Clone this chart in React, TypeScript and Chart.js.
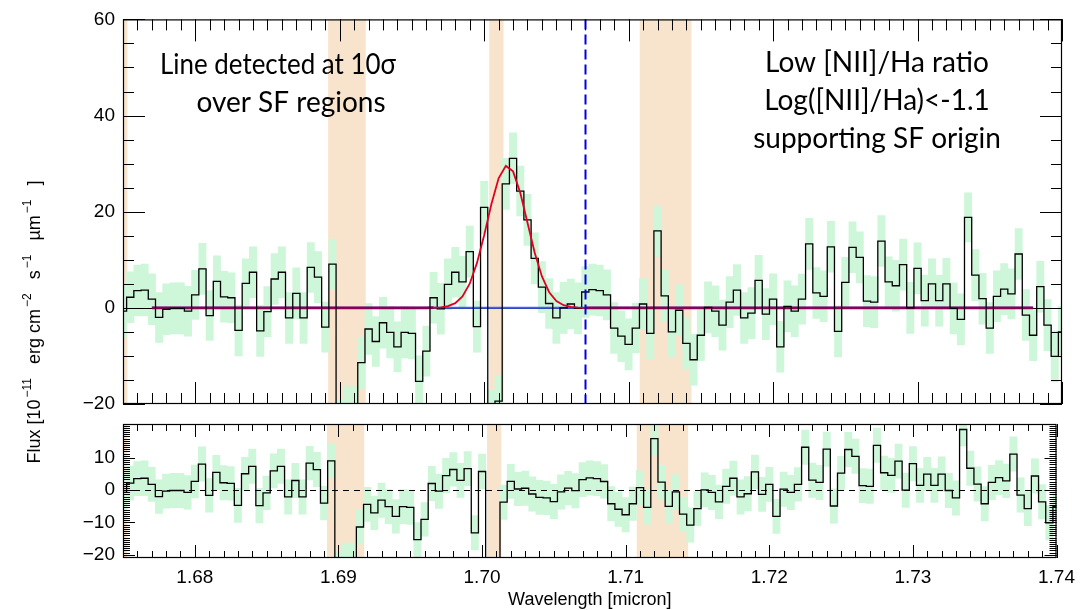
import React, { useEffect, useRef } from "react";
import { Chart, registerables } from "chart.js";

Chart.register(...registerables);

// Spectral grid: one flux sample every 0.5 nm
const WAVE_START = 1.675;
const WAVE_STEP = 0.0005;
const X_MIN = 1.675;
const X_MAX = 1.74;

// Flux density per bin [1e-11 erg cm^-2 s^-1 um^-1]
const flux = [
  -0.7, 2.2, 3.6, 3.7, 1.8, -2.0, -0.3, -0.1, -0.1, -0.7,
  2.7, 8.1, -1.6, 5.5, 2.3, 2.1, -4.7, 5.1, 7.4, -4.8,
  -0.8, 6.0, 7.4, -2.1, 3.0, -2.1, 8.4, 6.4, -4.0, 9.1,
  -24.5, -21.8, -21.8, -11.4, -4.4, -7.0, -3.1, -5.1, -8.1, -5.1,
  -5.3, -15.3, -9.0, 2.1, -0.2, 4.9, 7.4, 5.4, 11.7, -3.9,
  20.9, -22.4, -19.4, 25.8, 31.1, 24.3, 18.3, 10.3, 4.3, 0.9,
  -2.1, 0.0, 0.8, -0.1, 3.3, 3.8, 3.6, 2.7, -4.2, -5.9,
  -7.6, -4.2, 0.8, -5.3, 16.0, 2.5, -5.0, -0.5, -7.4, -10.8,
  -5.7, 0.1, -0.7, -3.6, 1.2, 3.7, -2.1, -1.1, 5.7, -1.3,
  1.8, -8.1, 0.3, -0.7, 1.8, 13.3, 3.1, 2.4, 12.7, -4.9,
  5.3, 12.6, 10.5, 1.4, 1.2, 13.9, 5.4, 4.6, 9.0, 0.0,
  8.2, 1.5, 5.0, 1.5, 5.0, -0.1, -2.4, 18.8, 6.8, 1.9,
  -4.2, 2.4, 3.9, 2.9, 11.2, -1.5, -5.7, 4.4, -3.6, -10.1,
  -5.0,
];

// 1-sigma uncertainty per bin
const fluxErr = [
  5.4, 5.3, 5.3, 5.4, 5.3, 5.2, 5.3, 5.3, 5.3, 5.2,
  5.1, 5.3, 5.2, 5.3, 5.3, 5.2, 5.3, 5.1, 5.3, 5.3,
  5.2, 5.3, 5.3, 5.3, 5.3, 5.3, 5.2, 5.3, 5.2, 5.2,
  5.3, 5.4, 5.4, 5.3, 5.3, 5.2, 5.3, 5.3, 5.2, 5.3,
  5.3, 5.3, 5.2, 5.3, 5.3, 5.3, 5.2, 5.3, 5.3, 5.3,
  5.4, 5.3, 5.3, 5.3, 5.3, 5.2, 5.3, 5.3, 5.3, 5.2,
  5.3, 5.3, 5.2, 5.3, 5.3, 5.3, 5.3, 5.2, 5.3, 5.3,
  5.3, 5.2, 5.3, 5.3, 5.3, 5.3, 5.2, 5.3, 5.3, 5.3,
  5.3, 5.3, 5.3, 5.2, 5.3, 5.3, 5.3, 5.3, 5.2, 5.3,
  5.3, 5.3, 5.3, 5.3, 5.2, 5.3, 5.3, 5.3, 5.3, 5.3,
  5.2, 5.3, 5.3, 5.3, 5.3, 5.3, 5.2, 5.3, 5.3, 5.3,
  5.3, 5.3, 5.2, 5.3, 5.3, 5.3, 5.3, 5.1, 5.3, 5.3,
  5.3, 5.3, 5.3, 5.2, 5.3, 5.3, 5.3, 5.3, 5.3, 5.3,
  5.3,
];

// Single-Gaussian emission-line fit on a flat continuum
const FIT_AMPLITUDE = 29.6;
const FIT_CENTER = 1.7016;
const FIT_SIGMA = 0.00138;
const FIT_CONTINUUM = 0;
const FIT_RANGE = [1.6767, 1.7384];

// Masked (sky-line) intervals and the expected line position
const maskedRanges = [
  [1.675, 1.6753],
  [1.6892, 1.6918],
  [1.70035, 1.70134],
  [1.71077, 1.71435],
];
const lineMarker = 1.707;

// Axis tick labels
const xTickLabels = [1.68, 1.69, 1.7, 1.71, 1.72, 1.73, 1.74];
const fluxTickLabels = [-20, 0, 20, 40, 60];
const residTickLabels = [-20, -10, 0, 10];

const noteLeft = ["Line detected at 10\u03c3", "over SF regions"];
const noteRight = ["Low [NII]/Ha ratio", "Log([NII]/Ha)<-1.1", "supporting SF origin"];

const GREEN = "rgb(206, 246, 217)";
const ORANGE = "rgb(248, 228, 204)";
const BLUE = "rgb(64, 96, 255)";
const RED = "rgb(226, 0, 34)";
const PURPLE = "rgb(138, 0, 84)";
const MARKER_BLUE = "rgb(0, 0, 225)";
const AXIS_FONT = '"Liberation Sans", Arial, Helvetica, sans-serif';
const NOTE_FONT = 'Lato, "Open Sans", sans-serif';

const wavelength = flux.map((_, i) => Math.round((WAVE_START + i * WAVE_STEP) * 1e5) / 1e5);
const gauss = (w: number) =>
  FIT_AMPLITUDE * Math.exp(-((w - FIT_CENTER) ** 2) / (2 * FIT_SIGMA * FIT_SIGMA));
const inFit = (w: number) => w >= FIT_RANGE[0] && w <= FIT_RANGE[1];
const fitWaves = wavelength.filter(inFit);
const fitModel = fitWaves.map((w) => FIT_CONTINUUM + gauss(w));
const residual = flux.map((f, i) => f - (FIT_CONTINUUM + gauss(wavelength[i])));

const minus = (v: number) => (v < 0 ? "\u2212" + Math.abs(v) : String(v));

function range(lo: number, hi: number, step: number) {
  const out: number[] = [];
  const n = Math.round((hi - lo) / step);
  for (let i = 0; i <= n; i++) out.push(Math.round((lo + i * step) * 1e6) / 1e6);
  return out;
}

type TickSpec = {
  xMinor: number[];
  xMajor: number[];
  xMinorLen: number;
  xMajorLen: number;
  yMinor: number[];
  yMajor: number[];
  yMinorLen: number;
  yMajorLen: number;
};

function drawFrame(chart: any, spec: TickSpec) {
  const { ctx, chartArea: a } = chart;
  const xs = chart.scales.x;
  const ys = chart.scales.y;
  ctx.save();
  ctx.strokeStyle = "#000";
  ctx.lineWidth = 1;
  ctx.beginPath();
  const xt = (v: number, len: number) => {
    const p = Math.round(xs.getPixelForValue(v)) + 0.5;
    ctx.moveTo(p, a.bottom);
    ctx.lineTo(p, a.bottom - len);
    ctx.moveTo(p, a.top);
    ctx.lineTo(p, a.top + len);
  };
  const yt = (v: number, len: number) => {
    const p = Math.round(ys.getPixelForValue(v)) + 0.5;
    if (p < a.top || p > a.bottom + 1) return;
    ctx.moveTo(a.left, p);
    ctx.lineTo(a.left + len, p);
    ctx.moveTo(a.right, p);
    ctx.lineTo(a.right - len, p);
  };
  spec.xMinor.forEach((v) => xt(v, spec.xMinorLen));
  spec.xMajor.forEach((v) => xt(v, spec.xMajorLen));
  spec.yMinor.forEach((v) => yt(v, spec.yMinorLen));
  spec.yMajor.forEach((v) => yt(v, spec.yMajorLen));
  ctx.stroke();
  ctx.lineWidth = 1.2;
  ctx.strokeRect(a.left + 0.5, a.top + 0.5, a.right - a.left - 1, a.bottom - a.top - 1);
  ctx.restore();
}

function drawBands(chart: any) {
  const { ctx, chartArea: a } = chart;
  const xs = chart.scales.x;
  ctx.save();
  ctx.beginPath();
  ctx.rect(a.left, a.top, a.right - a.left, a.bottom - a.top);
  ctx.clip();
  ctx.fillStyle = ORANGE;
  for (const [lo, hi] of maskedRanges) {
    const x0 = xs.getPixelForValue(lo);
    const x1 = xs.getPixelForValue(hi);
    ctx.fillRect(x0, a.top, x1 - x0, a.bottom - a.top);
  }
  ctx.restore();
}

function drawZero(chart: any, dash: number[]) {
  const { ctx, chartArea: a } = chart;
  const p = Math.round(chart.scales.y.getPixelForValue(0)) + 0.5;
  ctx.save();
  ctx.strokeStyle = "#000";
  ctx.lineWidth = 1;
  ctx.setLineDash(dash);
  ctx.beginPath();
  ctx.moveTo(a.left, p);
  ctx.lineTo(a.right, p);
  ctx.stroke();
  ctx.restore();
}

const xMajor = xTickLabels;
const xMinor = range(X_MIN, X_MAX, 0.001);

const topDecor = {
  id: "topDecor",
  beforeDatasetsDraw(chart: any) {
    drawBands(chart);
  },
  afterDatasetDraw(chart: any, args: any) {
    if (args.meta.type === "bar") drawZero(chart, []);
  },
  afterDatasetsDraw(chart: any) {
    const { ctx, chartArea: a } = chart;
    const p = Math.round(chart.scales.x.getPixelForValue(lineMarker)) + 0.5;
    ctx.save();
    ctx.strokeStyle = MARKER_BLUE;
    ctx.lineWidth = 2;
    ctx.setLineDash([10, 5]);
    ctx.beginPath();
    ctx.moveTo(p, a.top);
    ctx.lineTo(p, a.bottom);
    ctx.stroke();
    ctx.restore();

    drawFrame(chart, {
      xMinor,
      xMajor,
      xMinorLen: 11,
      xMajorLen: 22,
      yMinor: range(-20, 60, 5),
      yMajor: fluxTickLabels,
      yMinorLen: 11,
      yMajorLen: 22,
    });

    ctx.save();
    ctx.fillStyle = "#000";
    ctx.textAlign = "center";
    ctx.textBaseline = "alphabetic";
    ctx.font = `28px ${NOTE_FONT}`;
    const leftX = [278, 291];
    const leftY = [74, 112];
    const leftW = [236, 196];
    noteLeft.forEach((t, i) => ctx.fillText(t, leftX[i], leftY[i], leftW[i]));
    const rightY = [72, 110, 148];
    const rightW = [230, 231, 257];
    noteRight.forEach((t, i) => ctx.fillText(t, 877, rightY[i], rightW[i]));
    ctx.restore();
  },
};

const bottomDecor = {
  id: "bottomDecor",
  beforeDatasetsDraw(chart: any) {
    drawBands(chart);
  },
  afterDatasetDraw(chart: any, args: any) {
    if (args.meta.type === "bar") drawZero(chart, [6, 5]);
  },
  afterDatasetsDraw(chart: any) {
    drawFrame(chart, {
      xMinor,
      xMajor,
      xMinorLen: 7,
      xMajorLen: 13,
      yMinor: range(-20 - 2 / 3, 20, 2 / 3),
      yMajor: residTickLabels,
      yMinorLen: 7,
      yMajorLen: 12,
    });
  },
  afterDraw(chart: any) {
    const { ctx, chartArea: a } = chart;
    ctx.save();
    ctx.fillStyle = "#000";
    ctx.font = `18px ${AXIS_FONT}`;
    ctx.textAlign = "center";
    ctx.textBaseline = "alphabetic";
    ctx.fillText("Wavelength [micron]", (a.left + a.right) / 2, 605);

    // rotated flux label with superscript exponents
    const runs = [
      { t: "Flux [10", s: false },
      { t: "\u221211", s: true },
      { t: "erg cm", s: false },
      { t: "\u22122", s: true },
      { t: "s", s: false },
      { t: "\u22121", s: true },
      { t: "\u00b5m", s: false },
      { t: "\u22121", s: true },
      { t: "]", s: false },
    ];
    const mainFont = `18px ${AXIS_FONT}`;
    const supFont = `12px ${AXIS_FONT}`;
    const supGap = 14;
    let total = 0;
    runs.forEach((r) => {
      ctx.font = r.s ? supFont : mainFont;
      total += ctx.measureText(r.t).width + (r.s ? supGap + 2 : 0);
    });
    ctx.translate(40, 322);
    ctx.rotate(-Math.PI / 2);
    ctx.textAlign = "left";
    let x = -total / 2;
    runs.forEach((r) => {
      ctx.font = r.s ? supFont : mainFont;
      ctx.fillText(r.t, x + (r.s ? 2 : 0), r.s ? -9 : 0);
      x += ctx.measureText(r.t).width + (r.s ? supGap + 2 : 0);
    });
    ctx.restore();
  },
};

const tickFont = { family: AXIS_FONT, size: 19 };

export default function App() {
  const topRef = useRef<HTMLCanvasElement>(null);
  const botRef = useRef<HTMLCanvasElement>(null);

  useEffect(() => {
    document.body.style.margin = "0";

    const errorBoxes = (vals: number[]) =>
      wavelength.map((w, i) => ({ x: w, y: [vals[i] - fluxErr[i], vals[i] + fluxErr[i]] }));

    const top = new Chart(topRef.current!, {
      type: "bar",
      data: {
        datasets: [
          {
            type: "bar",
            data: errorBoxes(flux) as any,
            backgroundColor: GREEN,
            borderWidth: 0,
            barPercentage: 1,
            categoryPercentage: 1,
            order: 6,
            clip: 0,
          },
          {
            type: "line",
            data: fitWaves.map((w) => ({ x: w, y: FIT_CONTINUUM })),
            borderColor: BLUE,
            borderWidth: 2,
            pointRadius: 0,
            order: 4,
            clip: 0,
          },
          {
            // fit where it sits on the continuum, drawn heavier
            type: "line",
            data: fitWaves.map((w, i) => ({
              x: w,
              y: Math.abs(fitModel[i] - FIT_CONTINUUM) < 0.04 ? fitModel[i] : null,
            })),
            borderColor: PURPLE,
            borderWidth: 2.7,
            pointRadius: 0,
            spanGaps: false,
            order: 3,
            clip: 0,
          },
          {
            type: "line",
            data: wavelength.map((w, i) => ({ x: w, y: flux[i] })),
            stepped: "middle",
            borderColor: "#000",
            borderWidth: 1.3,
            pointRadius: 0,
            order: 2,
            clip: 0,
          },
          {
            type: "line",
            data: fitWaves.map((w, i) => ({ x: w, y: fitModel[i] })),
            borderColor: RED,
            borderWidth: 1.8,
            pointRadius: 0,
            order: 1,
            clip: 0,
            segment: {
              borderColor: (c: any) =>
                Math.abs(c.p0.parsed.y - FIT_CONTINUUM) < 0.04 &&
                Math.abs(c.p1.parsed.y - FIT_CONTINUUM) < 0.04
                  ? "rgba(0,0,0,0)"
                  : RED,
            },
          } as any,
        ],
      },
      options: {
        responsive: false,
        animation: false,
        events: [],
        layout: { padding: { top: 14, right: 21, bottom: 206, left: 0 } },
        plugins: { legend: { display: false }, tooltip: { enabled: false } },
        scales: {
          x: { type: "linear", min: X_MIN, max: X_MAX, offset: false, display: false },
          y: {
            type: "linear",
            min: -20,
            max: 60,
            afterFit: (s: any) => {
              s.width = 123;
            },
            afterBuildTicks: (s: any) => {
              s.ticks = fluxTickLabels.map((v) => ({ value: v }));
            },
            grid: { display: false, drawTicks: false },
            border: { display: false },
            ticks: {
              padding: 8,
              color: "#000",
              font: tickFont,
              callback: (v: any) => minus(Number(v)),
            },
          },
        },
      } as any,
      plugins: [topDecor],
    });

    const bottom = new Chart(botRef.current!, {
      type: "bar",
      data: {
        datasets: [
          {
            type: "bar",
            data: errorBoxes(residual) as any,
            backgroundColor: GREEN,
            borderWidth: 0,
            barPercentage: 1,
            categoryPercentage: 1,
            order: 5,
            clip: 0,
          },
          {
            type: "line",
            data: wavelength.map((w, i) => ({ x: w, y: residual[i] })),
            stepped: "middle",
            borderColor: "#000",
            borderWidth: 1.3,
            pointRadius: 0,
            order: 1,
            clip: 0,
          },
        ],
      },
      options: {
        responsive: false,
        animation: false,
        events: [],
        layout: { padding: { top: 424, right: 21, bottom: 0, left: 0 } },
        plugins: { legend: { display: false }, tooltip: { enabled: false } },
        scales: {
          x: {
            type: "linear",
            min: X_MIN,
            max: X_MAX,
            offset: false,
            afterFit: (s: any) => {
              s.height = 52;
            },
            afterBuildTicks: (s: any) => {
              s.ticks = xTickLabels.map((v) => ({ value: v }));
            },
            grid: { display: false, drawTicks: false },
            border: { display: false },
            ticks: {
              padding: 8,
              color: "#000",
              font: tickFont,
              autoSkip: false,
              maxRotation: 0,
              callback: (v: any) => Number(v).toFixed(2),
            },
          },
          y: {
            type: "linear",
            min: -21,
            max: 20.5,
            afterFit: (s: any) => {
              s.width = 123;
            },
            afterBuildTicks: (s: any) => {
              s.ticks = residTickLabels.map((v) => ({ value: v }));
            },
            grid: { display: false, drawTicks: false },
            border: { display: false },
            ticks: {
              padding: 8,
              color: "#000",
              font: tickFont,
              callback: (v: any) => minus(Number(v)),
            },
          },
        },
      } as any,
      plugins: [bottomDecor],
    });

    return () => {
      top.destroy();
      bottom.destroy();
    };
  }, []);

  return (
    <div style={{ position: "absolute", left: 0, top: 0, width: 1083, height: 610, background: "#fff" }}>
      <canvas ref={topRef} width={1083} height={610} style={{ position: "absolute", left: 0, top: 0 }} />
      <canvas ref={botRef} width={1083} height={610} style={{ position: "absolute", left: 0, top: 0 }} />
    </div>
  );
}
